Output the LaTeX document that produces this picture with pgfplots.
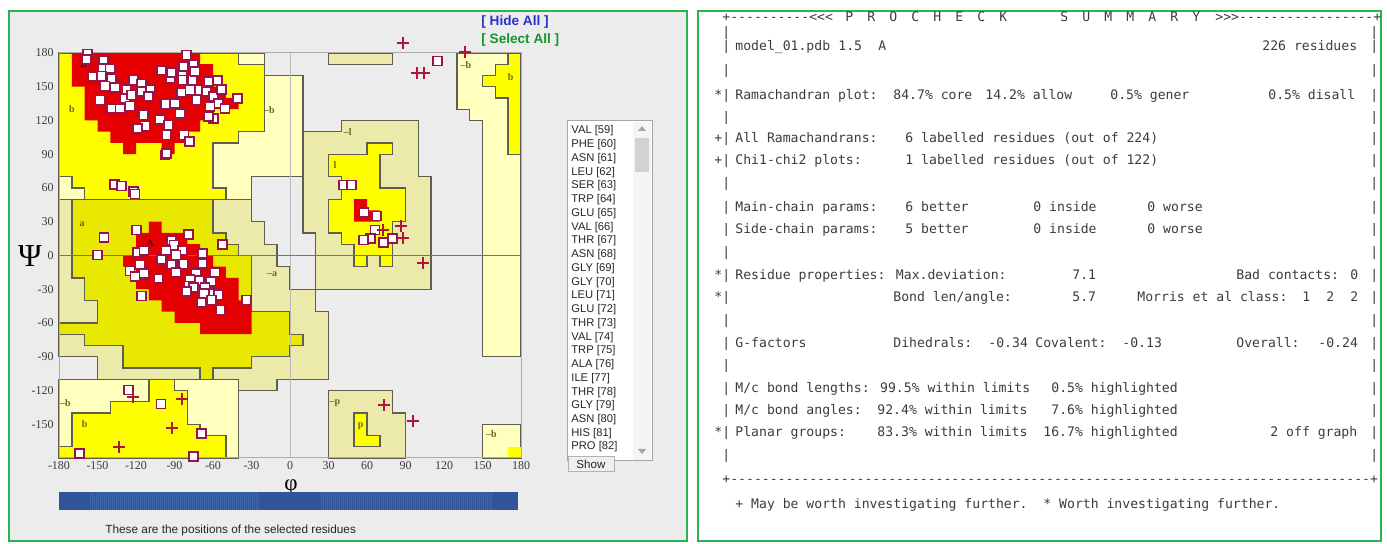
\documentclass[border=0pt]{standalone}
\usepackage{pgfplots}
\pgfplotsset{compat=1.18}
\usepackage{fontspec}
\setmainfont{Liberation Serif}
\newfontfamily\arial{Liberation Sans}
\newfontfamily\mono[Ligatures={TeXOff}]{DejaVu Sans Mono}

\definecolor{panelgray}{RGB}{236,236,236}
\definecolor{bordergreen}{RGB}{40,180,80}
\definecolor{core}{RGB}{228,0,0}
\definecolor{ybright}{RGB}{255,255,0}
\definecolor{ydark}{RGB}{232,232,0}
\definecolor{pale}{RGB}{255,255,190}
\definecolor{khaki}{RGB}{236,234,170}
\definecolor{edge}{RGB}{95,95,80}
\definecolor{sqedge}{RGB}{150,20,75}
\definecolor{plusc}{RGB}{175,20,60}
\definecolor{txt}{RGB}{60,60,60}
\definecolor{lab}{RGB}{110,100,40}
\definecolor{barblue}{RGB}{62,100,170}
\definecolor{bardark}{RGB}{48,84,152}
\definecolor{hideblue}{RGB}{40,50,200}
\definecolor{selgreen}{RGB}{20,150,40}

\newcommand{\mt}[3]{\node[anchor=base west,inner sep=0pt,font=\mono\fontsize{6.56}{7}\selectfont,text=txt] at (#1,#2+4) {#3};}
\newcommand{\lb}[2]{\node[anchor=base west,inner sep=0pt,font=\arial\fontsize{5.6}{6}\selectfont,text=black!85] at (571,#1+4) {#2};}

\begin{document}
\begin{tikzpicture}
\begin{scope}[shift={(0pt,272pt)},x=0.5pt,y=-0.5pt]
\fill[white] (0,0) rectangle (1387,544);
\fill[panelgray] (9,11) rectangle (687,541);
\draw[bordergreen,line width=1pt] (9,11) rectangle (687,541);
\draw[bordergreen,line width=1pt] (698,11) rectangle (1381,541);
% hide / select
\node[anchor=west,inner sep=0pt,font=\arial\bfseries\fontsize{6.8}{7}\selectfont,text=hideblue] at (481,22) {[ Hide All ]};
\node[anchor=west,inner sep=0pt,font=\arial\bfseries\fontsize{6.8}{7}\selectfont,text=selgreen] at (481,40) {[ Select All ]};
% listbox
\fill[white] (567,121) rectangle (652,461);
\draw[gray!70,line width=0.5pt] (567,121) rectangle (652,461);
\fill[gray!8] (633,122) rectangle (651,460);
\fill[gray!35] (635,138) rectangle (649,172);
\fill[gray!70] (638,131)--(646,131)--(642,126)--cycle;
\fill[gray!70] (638,449)--(646,449)--(642,454)--cycle;
\lb{130}{VAL [59]}
\lb{143.7}{PHE [60]}
\lb{157.5}{ASN [61]}
\lb{171.2}{LEU [62]}
\lb{185}{SER [63]}
\lb{198.7}{TRP [64]}
\lb{212.4}{GLU [65]}
\lb{226.2}{VAL [66]}
\lb{239.9}{THR [67]}
\lb{253.7}{ASN [68]}
\lb{267.4}{GLY [69]}
\lb{281.1}{GLY [70]}
\lb{294.9}{LEU [71]}
\lb{308.6}{GLU [72]}
\lb{322.4}{THR [73]}
\lb{336.1}{VAL [74]}
\lb{349.8}{TRP [75]}
\lb{363.6}{ALA [76]}
\lb{377.3}{ILE [77]}
\lb{391.1}{THR [78]}
\lb{404.8}{GLY [79]}
\lb{418.5}{ASN [80]}
\lb{432.3}{HIS [81]}
\lb{446}{PRO [82]}
% show button
\fill[gray!12] (568,457) rectangle (614,472);
\draw[gray!60,line width=0.5pt] (568,457) rectangle (614,472);
\node[font=\arial\fontsize{5.8}{6}\selectfont,text=black!85,inner sep=0pt] at (591,464.5) {Show};
% axis symbols
\node[font=\fontsize{16}{16}\selectfont,inner sep=0pt] at (30,256) {Ψ};
\node[anchor=base,font=\fontsize{11.5}{12}\selectfont,inner sep=0pt] at (291,491) {φ};
% position bar
\fill[barblue] (59,492) rectangle (518,510);
\foreach \i in {91,93,...,259} {\fill[bardark] (\i,492) rectangle (\i+1,510);}
\foreach \i in {322,324,...,492} {\fill[bardark] (\i,492) rectangle (\i+1,510);}
\fill[bardark] (59,492) rectangle (90,510);
\fill[bardark] (260,492) rectangle (321,510);
\fill[bardark] (493,492) rectangle (518,510);
\node[anchor=west,inner sep=0pt,font=\arial\fontsize{5.9}{6}\selectfont,text=black!85] at (105,530) {These are the positions of the selected residues};
% ---------- right panel text ----------
\mt{722}{18}{+----------<<<}
\foreach \c [count=\k from 0] in {P,R,O,C,H,E,C,K} {\mt{845+22*\k}{18}{\c}}
\foreach \c [count=\k from 0] in {S,U,M,M,A,R,Y} {\mt{1060+22*\k}{18}{\c}}
\mt{1215}{18}{>>>-----------------+}
\foreach \yy in {33,47,71,96,118,139,161,184,208,230,253,276,298,321,344,366,389,411,433,456} {
  \mt{722}{\yy}{|}
  \mt{1370}{\yy}{|}
}
\mt{714}{96}{*}
\mt{714}{139}{+}
\mt{714}{161}{+}
\mt{714}{276}{*}
\mt{714}{298}{*}
\mt{714}{433}{*}
\mt{735}{47}{model\_01.pdb}
\mt{838}{47}{1.5}
\mt{878}{47}{A}
\mt{1262}{47}{226 residues}
\mt{735}{96}{Ramachandran plot:}
\mt{893}{96}{84.7\% core}
\mt{985}{96}{14.2\% allow}
\mt{1110}{96}{0.5\% gener}
\mt{1268}{96}{0.5\% disall}
\mt{735}{139}{All Ramachandrans:}
\mt{905}{139}{6 labelled residues (out of 224)}
\mt{735}{161}{Chi1-chi2 plots:}
\mt{905}{161}{1 labelled residues (out of 122)}
\mt{735}{208}{Main-chain params:}
\mt{905}{208}{6 better}
\mt{1033}{208}{0 inside}
\mt{1147}{208}{0 worse}
\mt{735}{230}{Side-chain params:}
\mt{905}{230}{5 better}
\mt{1033}{230}{0 inside}
\mt{1147}{230}{0 worse}
\mt{735}{276}{Residue properties: Max.deviation:}
\mt{1072}{276}{7.1}
\mt{1236}{276}{Bad contacts:}
\mt{1350}{276}{0}
\mt{893}{298}{Bond len/angle:}
\mt{1072}{298}{5.7}
\mt{1137}{298}{Morris et al class:}
\mt{1302}{298}{1}
\mt{1326}{298}{2}
\mt{1350}{298}{2}
\mt{735}{344}{G-factors}
\mt{893}{344}{Dihedrals:}
\mt{988}{344}{-0.34}
\mt{1035}{344}{Covalent:}
\mt{1122}{344}{-0.13}
\mt{1236}{344}{Overall:}
\mt{1318}{344}{-0.24}
\mt{735}{389}{M/c bond lengths: 99.5\% within limits}
\mt{1051}{389}{0.5\% highlighted}
\mt{735}{411}{M/c bond angles:}
\mt{877}{411}{92.4\% within limits}
\mt{1051}{411}{7.6\% highlighted}
\mt{735}{433}{Planar groups:}
\mt{877}{433}{83.3\% within limits}
\mt{1043}{433}{16.7\% highlighted}
\mt{1270}{433}{2 off graph}
\mt{722}{480}{+---------------------------------------------------------------------------------+}
\mt{735}{505}{+ May be worth investigating further.}
\mt{1043}{505}{* Worth investigating further.}
\end{scope}

\begin{axis}[
  at={(29.5pt,43pt)}, anchor=south west, scale only axis,
  width=231pt, height=202.5pt,
  xmin=-180, xmax=180, ymin=-180, ymax=180,
  xtick={-180,-150,...,180}, ytick={-150,-120,...,180},
  major tick length=0pt,
  axis line style={draw=gray!65, line width=0.5pt},
  axis on top=true,
  clip=false,
  /pgf/number format/assume math mode=true,
  ticklabel style={font=\fontsize{6}{6}\selectfont, text=txt, inner sep=1pt},
  xticklabel style={anchor=north, yshift=-0.5pt},
  yticklabel style={anchor=east, xshift=-1.5pt},
]
% generous (pale)
\addplot[fill=pale, draw=edge, line width=0.7pt, mark=none] coordinates {(-180,180) (-20,180) (-20,160) (10,160) (10,70) (-30,70) (-30,50) (-180,50)} -- cycle;
\addplot[fill=pale, draw=edge, line width=0.7pt, mark=none] coordinates {(-180,-110) (-40,-110) (-40,-180) (-180,-180)} -- cycle;
\addplot[fill=pale, draw=edge, line width=0.7pt, mark=none] coordinates {(130,180) (180,180) (180,-90) (150,-90) (150,120) (140,120) (140,130) (130,130)} -- cycle;
\addplot[fill=pale, draw=edge, line width=0.7pt, mark=none] coordinates {(150,-150) (180,-150) (180,-180) (150,-180)} -- cycle;
% generous (khaki)
\addplot[fill=khaki, draw=edge, line width=0.7pt, mark=none] coordinates {(-180,50) (-30,50) (-30,30) (-20,30) (-20,10) (-10,10) (-10,-10) (0,-10) (0,-30) (20,-30) (20,-50) (30,-50) (30,-110) (-10,-110) (-10,-120) (-40,-120) (-40,-110) (-150,-110) (-150,-90) (-180,-90)} -- cycle;
\addplot[fill=khaki, draw=edge, line width=0.7pt, mark=none] coordinates {(10,110) (40,110) (40,120) (100,120) (100,70) (110,70) (110,-30) (20,-30) (20,20) (10,20)} -- cycle;
\addplot[fill=khaki, draw=edge, line width=0.7pt, mark=none] coordinates {(30,170) (80,170) (80,180) (30,180)} -- cycle;
\addplot[fill=khaki, draw=edge, line width=0.7pt, mark=none] coordinates {(30,-120) (80,-120) (80,-140) (90,-140) (90,-180) (30,-180)} -- cycle;
% allowed (yellow)
\addplot[fill=ybright, draw=edge, line width=0.7pt, mark=none] coordinates {(-180,180) (-40,180) (-40,170) (-20,170) (-20,110) (-40,110) (-40,100) (-60,100) (-60,60) (-50,60) (-50,50) (-160,50) (-160,60) (-170,60) (-170,70) (-180,70)} -- cycle;
\addplot[fill=ydark, draw=edge, line width=0.7pt, mark=none] coordinates {(-170,50) (-60,50) (-60,20) (-50,20) (-50,10) (-40,10) (-40,0) (-30,0) (-30,-50) (0,-50) (0,-70) (10,-70) (10,-80) (0,-80) (0,-90) (-30,-90) (-30,-100) (-60,-100) (-60,-110) (-70,-110) (-70,-100) (-130,-100) (-130,-80) (-160,-80) (-160,-70) (-180,-70) (-180,-60) (-150,-60) (-150,-40) (-160,-40) (-160,-20) (-170,-20)} -- cycle;
\addplot[fill=ybright, draw=edge, line width=0.7pt, mark=none] coordinates {(-180,-180) (-180,-170) (-170,-170) (-170,-140) (-140,-140) (-140,-130) (-110,-130) (-110,-110) (-90,-110) (-90,-120) (-80,-120) (-80,-150) (-70,-150) (-70,-160) (-50,-160) (-50,-180)} -- cycle;
\addplot[fill=ybright, draw=edge, line width=0.7pt, mark=none] coordinates {(30,90) (60,90) (60,100) (80,100) (80,90) (70,90) (70,60) (90,60) (90,30) (80,30) (80,-10) (70,-10) (70,0) (60,0) (60,-10) (50,-10) (50,10) (40,10) (40,20) (30,20) (30,50) (40,50) (40,70) (30,70)} -- cycle;
\addplot[fill=ybright, draw=edge, line width=0.7pt, mark=none] coordinates {(170,180) (180,180) (180,90) (170,90) (170,140) (160,140) (160,150) (150,150) (150,160) (160,160) (160,170) (170,170)} -- cycle;
\addplot[fill=ybright, draw=none, mark=none] coordinates {(170,-170) (180,-170) (180,-180) (170,-180)} -- cycle;
\addplot[fill=ybright, draw=edge, line width=0.7pt, mark=none] coordinates {(50,-140) (60,-140) (60,-160) (70,-160) (70,-170) (50,-170)} -- cycle;
% core (red)
\addplot[fill=core, draw=none, mark=none] coordinates {(-170,180) (-70,180) (-70,170) (-60,170) (-60,150) (-50,150) (-50,140) (-40,140) (-40,130) (-60,130) (-60,120) (-70,120) (-70,110) (-80,110) (-80,100) (-90,100) (-90,90) (-100,90) (-100,100) (-120,100) (-120,90) (-130,90) (-130,100) (-140,100) (-140,110) (-150,110) (-150,120) (-160,120) (-160,150) (-170,150)} -- cycle;
\addplot[fill=core, draw=none, mark=none] coordinates {(-130,0) (-120,0) (-120,20) (-110,20) (-110,30) (-100,30) (-100,20) (-80,20) (-80,10) (-70,10) (-70,0) (-60,0) (-60,-10) (-50,-10) (-50,-20) (-40,-20) (-40,-40) (-30,-40) (-30,-70) (-70,-70) (-70,-60) (-90,-60) (-90,-50) (-100,-50) (-100,-40) (-110,-40) (-110,-30) (-120,-30) (-120,-10) (-130,-10)} -- cycle;
\addplot[fill=core, draw=none, mark=none] coordinates {(50,50) (60,50) (60,40) (70,40) (70,30) (50,30)} -- cycle;
% zero lines
\draw[gray!55, line width=0.4pt] (axis cs:0,-180) -- (axis cs:0,180);
\draw[black!55, line width=0.4pt] (axis cs:-180,0) -- (axis cs:180,0);
% region labels
\begin{scope}[every node/.style={font=\bfseries\fontsize{5}{5}\selectfont, text=lab, inner sep=0pt}]
\node at (axis cs:-170,130) {b};
\node at (axis cs:-162,28) {a};
\node at (axis cs:-16,129) {–b};
\node at (axis cs:-14,-17) {–a};
\node at (axis cs:45,110) {–l};
\node at (axis cs:35,80) {l};
\node at (axis cs:137,169) {–b};
\node at (axis cs:172,159) {b};
\node at (axis cs:35,-131) {–p};
\node at (axis cs:55,-152) {p};
\node at (axis cs:-175,-131) {–b};
\node at (axis cs:-160,-150) {b};
\node at (axis cs:157,-159) {–b};
\node[text=black!60!red] at (axis cs:-161,170) {B};
\node[text=black!60!red] at (axis cs:-109,11) {A};
\end{scope}
% residues
\addplot[only marks, mark=square*, mark size=2.25pt, mark options={fill=white, draw=sqedge, line width=0.85pt}] coordinates {
(-157.7,179) (-158.5,174.4) (-145.5,173.2) (-146,166.4) (-140.3,166.4) (-153.8,159) (-146.8,159.5) (-139,157.5) (-122.1,156) (-144.2,150.7) (-136.4,149.2) (-127.3,147.7) (-115.6,152.4) (-109.1,147.7) (-128.6,139.7) (-123.4,142.7) (-115.6,145.6) (-110.4,141.2) (-148.1,138.2) (-139,130.8) (-132.5,130.8) (-124.7,132.9) (-114.3,124.9) (-113,115.1) (-119,113) (-100,164.3) (-93,157.5) (-92.2,162.5) (-83.7,161.9) (-80.5,178.2) (-75.4,169.3) (-83.1,167.8) (-76,156) (-74.1,163.4) (-83.7,156) (-84.4,144.7) (-77.9,147.1) (-72.8,138.2) (-70.2,147.1) (-63.7,154.5) (-56.6,155.4) (-65,145.6) (-59.8,141.2) (-55.9,135.3) (-53.3,147.7) (-50.7,130.8) (-41,139.7) (-62.4,132.3) (-59.8,121.9) (-63.7,123.4) (-96.9,134.7) (-89.6,135.3) (-85.7,126.4) (-101.3,121) (-94.8,116) (-96.1,107.1) (-82.6,107.1) (-78.5,101.2) (-97.4,89.3) (-96.1,90.8)
(-136.9,63.3) (-131.2,61.8) (-122.1,56.7) (-120.8,54.7)
(-119.5,22.7) (-145,16) (-150.2,0.5) (-79.2,18.4) (-52.5,9.5) (-92.2,13.5) (-90.4,9.4) (-83.7,4.3) (-96.6,4.3) (-119,2.6) (-113.8,4.3) (-68.1,2) (-88.9,0.5) (-100,-3.4) (-92.2,-7.8) (-83.1,-7.5) (-68.3,-6.9) (-116.9,-7.8) (-124.7,-13.7) (-113.8,-15.8) (-120.8,-18.8) (-102.6,-20.3) (-88.9,-14.9) (-73.3,-15.8) (-58.5,-14.9) (-78,-21.2) (-70.7,-22.3) (-61.6,-23.2) (-79.2,-27.1) (-75.4,-28.3) (-66.3,-28.3) (-80.5,-32.1) (-67,-33.6) (-59.8,-33.6) (-55.9,-35.1) (-68.9,-41.9) (-61.1,-39.5) (-54,-48.4) (-33.8,-39.5) (-115.6,-36)
(-126,-119.5) (-100.5,-132) (-68.9,-158) (-164.2,-175.8) (-75.4,-178.5)
(114.8,172.9) (41.5,62.7) (48,62.7) (57.7,38.4) (67.5,35.1) (66.2,22.7) (62.8,15.3) (57.1,13.8) (72.7,11.4) (80,15.3)
};
\addplot[only marks, mark=+, mark size=3pt, mark options={draw=plusc, line width=1pt}] coordinates {
(88.3,188.6) (136.4,181) (98.7,162.5) (104.4,162.5) (72.7,22.7) (86.2,26.2) (88.3,15.3) (103.9,-6.9) (73.5,-132.9) (96.1,-146.8) (-122.6,-125.4) (-84.4,-127.8) (-91.7,-153.6) (-133,-170.5)
};
\end{axis}
\end{tikzpicture}
\end{document}
